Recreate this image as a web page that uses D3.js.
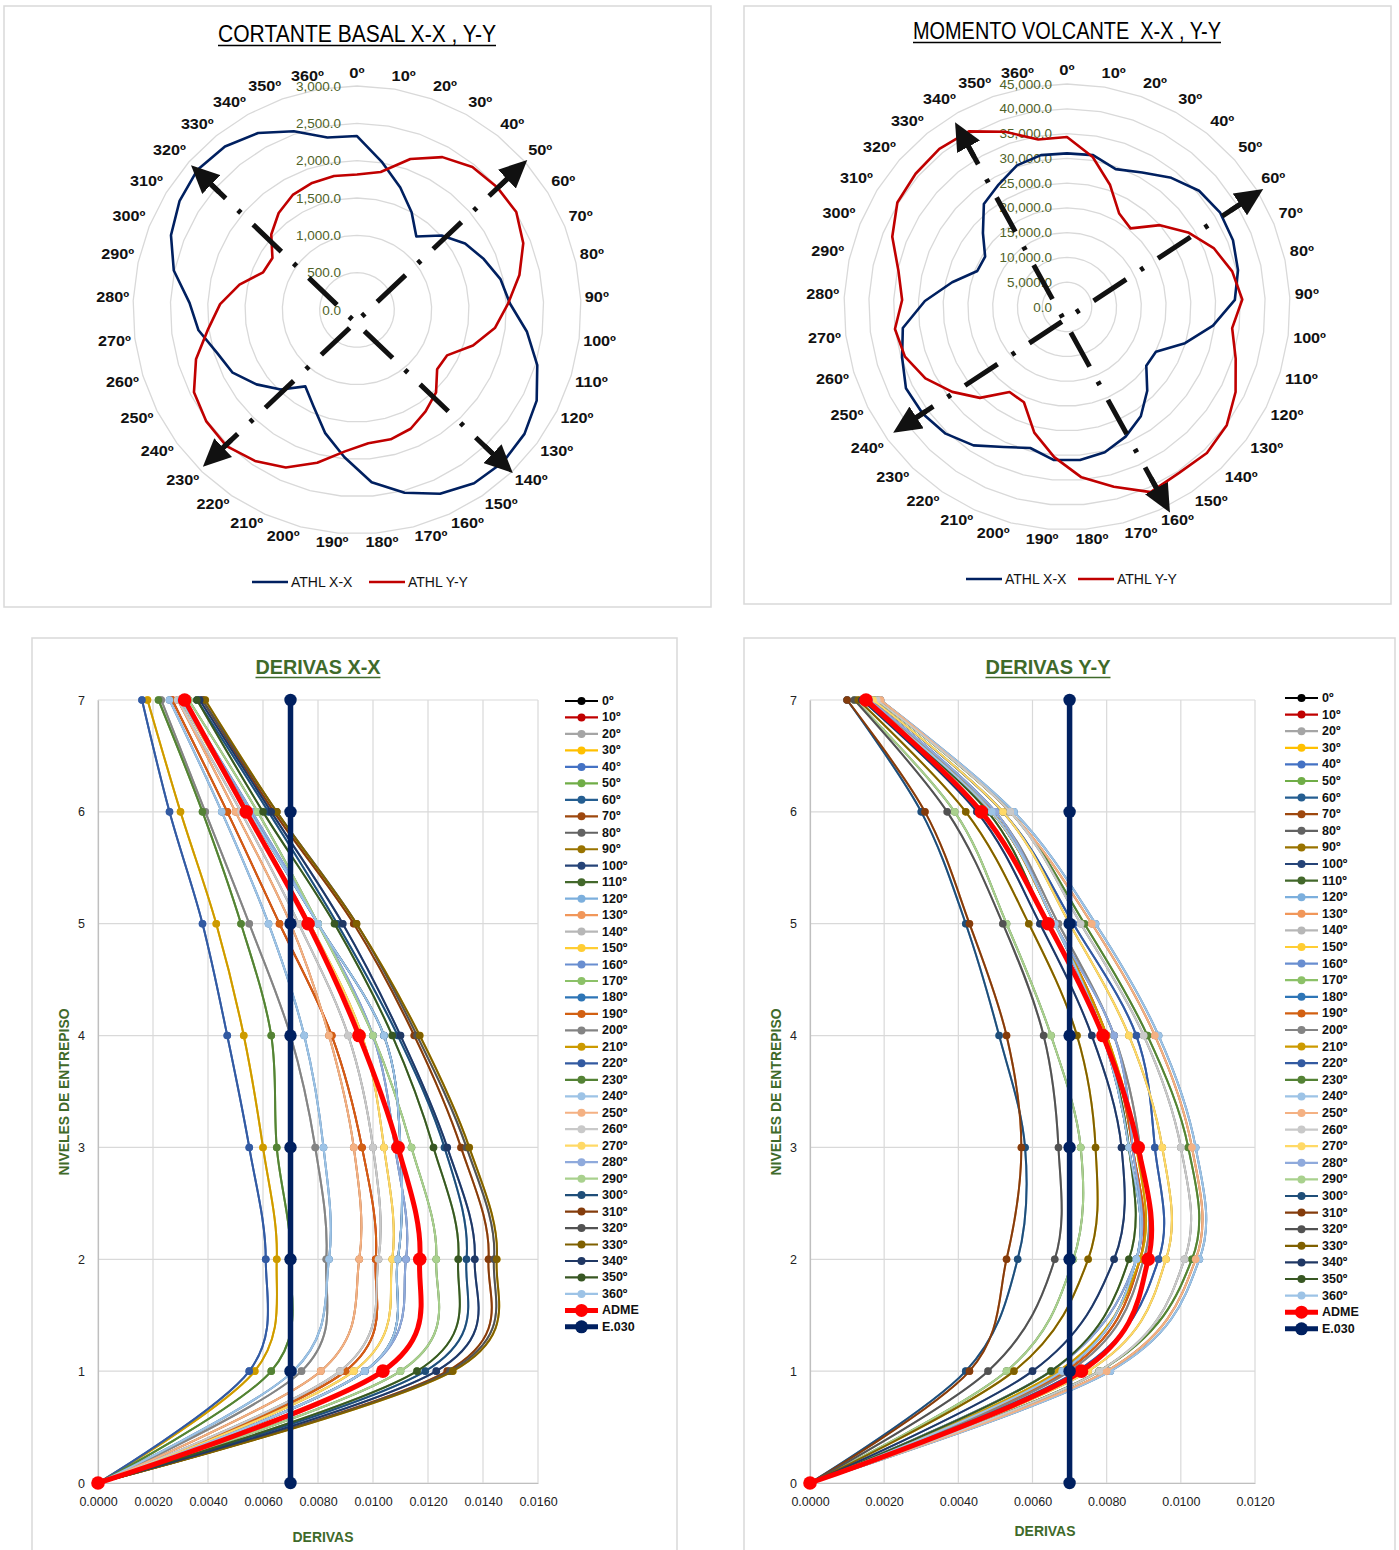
<!DOCTYPE html>
<html><head><meta charset="utf-8">
<script src="https://cdn.jsdelivr.net/npm/d3@7/dist/d3.min.js"></script>
<style>
body{margin:0;background:#fff;}
svg text{font-family:"Liberation Sans",Arial,sans-serif;}
</style></head>
<body><svg id="chart" width="1399" height="1550"></svg>
<script>
// ---------------- DATA ----------------
const radarCats = ["0º","10º","20º","30º","40º","50º","60º","70º","80º","90º","100º","110º","120º","130º","140º","150º","160º","170º","180º","190º","200º","210º","220º","230º","240º","250º","260º","270º","280º","290º","300º","310º","320º","330º","340º","350º","360º"];

const shearXX = [2330,2005,1740,1500,1265,1510,1700,1830,1965,2050,2295,2525,2695,2790,2825,2800,2700,2530,2315,1980,1700,1415,1235,1475,1675,1865,1960,2140,2245,2510,2685,2790,2845,2815,2715,2540,2345];
const shearYY = [1815,1875,2145,2345,2460,2495,2505,2400,2225,2025,1865,1625,1350,1335,1530,1640,1745,1790,1790,1900,2115,2315,2440,2525,2510,2445,2255,2010,1835,1610,1355,1330,1530,1670,1765,1805,1820];
const shearTicks = [0,500,1000,1500,2000,2500,3000];

const momentXX = [31000,31100,29500,31100,33500,35500,36300,36100,35300,33900,29700,24900,20100,19900,23400,26600,28700,30300,31000,31000,29400,31000,33700,35400,36200,36400,34800,33400,28700,23700,19500,19400,22600,26700,28300,30300,31100];
const momentYY = [34300,30700,26100,21600,20400,25000,28700,31900,34100,35400,33600,35600,38100,40100,40800,40400,41000,37500,34500,30400,26200,21100,20700,25400,28800,32000,34200,35000,33300,34800,38000,40200,40700,41000,40600,37500,34300];
const momentTicks = [0,5000,10000,15000,20000,25000,30000,35000,40000,45000];

// arrows: polar endpoints [angle deg, value]
const shearArrows = [ {a1:-135.5, v1:2945, a2:48.6, v2:3040}, {a1:-48.9, v1:2950, a2:136.3, v2:3020} ];
const momentArrows = [ {a1:-125.9, v1:43300, a2:59.0, v2:46200}, {a1:-31.2, v1:43600, a2:153.4, v2:46400} ];

const levels = [0,1,2,3,4,5,6,7];
const levelTicks = [0,1,2,3,4,5,6,7];
const xTicksXX = [0,0.002,0.004,0.006,0.008,0.010,0.012,0.014,0.016];
const xTicksYY = [0,0.002,0.004,0.006,0.008,0.010,0.012];

const namesXX = ["0º","10º","20º","30º","40°","50º","60º","70º","80º","90º","100º","110º","120º","130º","140º","150º","160º","170º","180º","190º","200º","210º","220º","230º","240º","250º","260º","270º","280º","290º","300°","310º","320º","330º","340º","350º","360º"];
const namesYY = ["0º","10º","20º","30º","40º","50º","60º","70º","80º","90º","100º","110º","120º","130º","140º","150º","160º","170º","180º","190º","200º","210º","220º","230º","240º","250º","260º","270º","280º","290º","300°","310º","320º","330º","340º","350º","360º"];
const seriesColors = ["#000000","#C00000","#A5A5A5","#FFC000","#4472C4","#70AD47","#255E91","#9E480E","#636363","#997300","#264478","#43682B","#7CAFDD","#F1975A","#B7B7B7","#FFCD33","#698ED0","#8CC168","#2E75B6","#D26012","#848484","#CC9A00","#335AA1","#548235","#9DC3E6","#F4B183","#C9C9C9","#FFD966","#8FAADC","#A9D18E","#1F4E79","#843C0C","#525252","#7F6000","#203864","#385723","#9DC3E6"];

// drift values per series, levels 0..7
const driftXX = [
 [0,0.0097,0.0109,0.0110,0.0104,0.0080,0.0055,0.0030],
 [0,0.0090,0.0101,0.0096,0.0085,0.0066,0.0047,0.0027],
 [0,0.0074,0.0083,0.0079,0.0070,0.0055,0.0039,0.0023],
 [0,0.0057,0.0065,0.0060,0.0053,0.0043,0.0030,0.0018],
 [0,0.0055,0.0061,0.0055,0.0047,0.0038,0.0026,0.0016],
 [0,0.0063,0.0070,0.0065,0.0063,0.0052,0.0038,0.0022],
 [0,0.0071,0.0084,0.0082,0.0075,0.0062,0.0045,0.0026],
 [0,0.0081,0.0095,0.0093,0.0084,0.0070,0.0050,0.0029],
 [0,0.0088,0.0102,0.0100,0.0091,0.0073,0.0052,0.0029],
 [0,0.0093,0.0107,0.0104,0.0096,0.0077,0.0054,0.0030],
 [0,0.0097,0.0112,0.0108,0.0100,0.0080,0.0056,0.0031],
 [0,0.0110,0.0123,0.0114,0.0100,0.0080,0.0058,0.0033],
 [0,0.0119,0.0134,0.0126,0.0109,0.0087,0.0062,0.0036],
 [0,0.0127,0.0142,0.0132,0.0115,0.0093,0.0064,0.0038],
 [0,0.0128,0.0144,0.0134,0.0116,0.0094,0.0065,0.0038],
 [0,0.0129,0.0145,0.0135,0.0117,0.0094,0.0065,0.0039],
 [0,0.0123,0.0137,0.0127,0.0110,0.0089,0.0063,0.0037],
 [0,0.0116,0.0131,0.0122,0.0107,0.0086,0.0060,0.0036],
 [0,0.0097,0.0109,0.0110,0.0104,0.0080,0.0055,0.0030],
 [0,0.0090,0.0101,0.0096,0.0085,0.0066,0.0047,0.0027],
 [0,0.0074,0.0083,0.0079,0.0070,0.0055,0.0039,0.0023],
 [0,0.0057,0.0065,0.0060,0.0053,0.0043,0.0030,0.0018],
 [0,0.0055,0.0061,0.0055,0.0047,0.0038,0.0026,0.0016],
 [0,0.0063,0.0070,0.0065,0.0063,0.0052,0.0038,0.0022],
 [0,0.0071,0.0084,0.0082,0.0075,0.0062,0.0045,0.0026],
 [0,0.0081,0.0095,0.0093,0.0084,0.0070,0.0050,0.0029],
 [0,0.0088,0.0102,0.0100,0.0091,0.0073,0.0052,0.0029],
 [0,0.0093,0.0107,0.0104,0.0096,0.0077,0.0054,0.0030],
 [0,0.0097,0.0112,0.0108,0.0100,0.0080,0.0056,0.0031],
 [0,0.0110,0.0123,0.0114,0.0100,0.0080,0.0058,0.0033],
 [0,0.0119,0.0134,0.0126,0.0109,0.0087,0.0062,0.0036],
 [0,0.0127,0.0142,0.0132,0.0115,0.0093,0.0064,0.0038],
 [0,0.0128,0.0144,0.0134,0.0116,0.0094,0.0065,0.0038],
 [0,0.0129,0.0145,0.0135,0.0117,0.0094,0.0065,0.0039],
 [0,0.0123,0.0137,0.0127,0.0110,0.0089,0.0063,0.0037],
 [0,0.0116,0.0131,0.0122,0.0107,0.0086,0.0060,0.0036],
 [0,0.0097,0.0109,0.0110,0.0104,0.0080,0.0055,0.0030]
];
const driftYY = [
 [0,0.0068,0.0088,0.0086,0.0079,0.0066,0.0049,0.0015],
 [0,0.0069,0.0089,0.0087,0.0080,0.0066,0.0049,0.0015],
 [0,0.0070,0.0090,0.0089,0.0082,0.0067,0.0050,0.0016],
 [0,0.0067,0.0089,0.0088,0.0080,0.0066,0.0049,0.0015],
 [0,0.0072,0.0094,0.0093,0.0088,0.0071,0.0052,0.0017],
 [0,0.0078,0.0103,0.0102,0.0091,0.0074,0.0054,0.0018],
 [0,0.0081,0.0105,0.0104,0.0094,0.0077,0.0055,0.0019],
 [0,0.0080,0.0104,0.0103,0.0093,0.0076,0.0054,0.0019],
 [0,0.0078,0.0101,0.0100,0.0090,0.0073,0.0054,0.0018],
 [0,0.0075,0.0096,0.0095,0.0086,0.0070,0.0052,0.0017],
 [0,0.0065,0.0088,0.0087,0.0082,0.0066,0.0050,0.0016],
 [0,0.0053,0.0071,0.0073,0.0065,0.0053,0.0039,0.0012],
 [0,0.0042,0.0056,0.0058,0.0051,0.0042,0.0030,0.0010],
 [0,0.0043,0.0053,0.0057,0.0053,0.0043,0.0031,0.0010],
 [0,0.0048,0.0066,0.0067,0.0063,0.0052,0.0037,0.0012],
 [0,0.0055,0.0075,0.0077,0.0072,0.0059,0.0042,0.0013],
 [0,0.0060,0.0082,0.0084,0.0076,0.0062,0.0045,0.0014],
 [0,0.0065,0.0086,0.0086,0.0079,0.0064,0.0048,0.0015],
 [0,0.0068,0.0088,0.0086,0.0079,0.0066,0.0049,0.0015],
 [0,0.0069,0.0089,0.0087,0.0080,0.0066,0.0049,0.0015],
 [0,0.0070,0.0090,0.0089,0.0082,0.0067,0.0050,0.0016],
 [0,0.0067,0.0089,0.0088,0.0080,0.0066,0.0049,0.0015],
 [0,0.0072,0.0094,0.0093,0.0088,0.0071,0.0052,0.0017],
 [0,0.0078,0.0103,0.0102,0.0091,0.0074,0.0054,0.0018],
 [0,0.0081,0.0105,0.0104,0.0094,0.0077,0.0055,0.0019],
 [0,0.0080,0.0104,0.0103,0.0093,0.0076,0.0054,0.0019],
 [0,0.0078,0.0101,0.0100,0.0090,0.0073,0.0054,0.0018],
 [0,0.0075,0.0096,0.0095,0.0086,0.0070,0.0052,0.0017],
 [0,0.0065,0.0088,0.0087,0.0082,0.0066,0.0050,0.0016],
 [0,0.0053,0.0071,0.0073,0.0065,0.0053,0.0039,0.0012],
 [0,0.0042,0.0056,0.0058,0.0051,0.0042,0.0030,0.0010],
 [0,0.0043,0.0053,0.0057,0.0053,0.0043,0.0031,0.0010],
 [0,0.0048,0.0066,0.0067,0.0063,0.0052,0.0037,0.0012],
 [0,0.0055,0.0075,0.0077,0.0072,0.0059,0.0042,0.0013],
 [0,0.0060,0.0082,0.0084,0.0076,0.0062,0.0045,0.0014],
 [0,0.0065,0.0086,0.0086,0.0079,0.0064,0.0048,0.0015],
 [0,0.0068,0.0088,0.0086,0.0079,0.0066,0.0049,0.0015]
];
const admeXX = [0,0.01036,0.0117,0.01091,0.00949,0.00764,0.00539,0.00315];
const admeYY = [0,0.00732,0.00912,0.00885,0.0079,0.00642,0.00462,0.00151];
const e030 = [0.007,0.007,0.007,0.007,0.007,0.007,0.007,0.007];

// ---------------- DRAWING ----------------
const svg = d3.select("#chart");
const green = "#4F6228";
const titleGreen = "#3F6A2A";

function panel(x,y,w,h){
  svg.append("rect").attr("x",x).attr("y",y).attr("width",w).attr("height",h)
    .attr("fill","#fff").attr("stroke","#D9D9D9").attr("stroke-width",1.5);
}
panel(4,6,707,601);
panel(744,6,647,598);
panel(32,638,645,940);
panel(744,638,651,940);

function title(cx,y,txt,size,width,weight,color){
  svg.append("text").attr("x",cx).attr("y",y).attr("text-anchor","middle")
    .attr("font-size",size).attr("font-weight",weight).attr("fill",color)
    .attr("textLength",width).attr("lengthAdjust","spacingAndGlyphs")
    .style("white-space","pre").text(txt);
  svg.append("line").attr("x1",cx-width/2).attr("x2",cx+width/2)
    .attr("y1",y+3.5).attr("y2",y+3.5).attr("stroke",color).attr("stroke-width",1.6);
}

const defs = svg.append("defs");
defs.append("marker").attr("id","ah").attr("viewBox","0 0 28 26")
  .attr("refX",19).attr("refY",13).attr("markerWidth",28).attr("markerHeight",26)
  .attr("markerUnits","userSpaceOnUse").attr("orient","auto")
  .append("path").attr("d","M0,0 L28,13 L0,26 Z").attr("fill","#111");

function drawRadar(c){
  const g = svg.append("g").attr("transform",`translate(${c.cx},${c.cy})`);
  const r = d3.scaleLinear().domain([0,c.max]).range([0,c.R]);
  const ang = d3.scaleLinear().domain([0,radarCats.length]).range([0,2*Math.PI]);
  const radial = d3.lineRadial().angle((d,i)=>ang(i)).radius(d=>r(d)).curve(d3.curveLinearClosed);
  c.ticks.forEach(t=>{
    g.append("path").attr("d",radial(radarCats.map(()=>t))).attr("fill","none")
      .attr("stroke","#D9D9D9").attr("stroke-width",1.3);
  });
  const fmt = d3.format(",.1f");
  c.ticks.forEach(t=>{
    g.append("text").attr("x",-c.labelGap).attr("y",-r(t)).attr("text-anchor","end")
      .attr("dominant-baseline","central").attr("fill",green).attr("font-size",13.5).text(fmt(t));
  });
  const clamp = v=>Math.max(-1,Math.min(1,v));
  radarCats.forEach((lab,i)=>{
    const th = ang(i);
    const w = (lab.length-1)*8.8 + 6.5, h = 14;
    const s = Math.sin(th), co = Math.cos(th);
    const cx = c.labelR*s + clamp(4*s)*w/2;
    const cy = -c.labelR*co - clamp(4*co)*h/2 - 2;
    g.append("text").attr("font-size",14).attr("font-weight","bold").attr("fill","#111")
      .attr("text-anchor","middle").attr("dominant-baseline","central")
      .attr("textLength",w).attr("lengthAdjust","spacingAndGlyphs")
      .attr("x",cx).attr("y",cy).text(lab);
  });
  g.append("path").attr("d",radial(c.xx)).attr("fill","none").attr("stroke","#002060")
    .attr("stroke-width",2.6).attr("stroke-linejoin","round");
  g.append("path").attr("d",radial(c.yy)).attr("fill","none").attr("stroke","#C00000")
    .attr("stroke-width",2.6).attr("stroke-linejoin","round");
  // arrows
  const pt = (deg,v)=>{const th=deg*Math.PI/180; return [r(v)*Math.sin(th), -r(v)*Math.cos(th)];};
  c.arrows.forEach(a=>{
    const A = pt(a.a1,a.v1), B = pt(a.a2,a.v2);
    const L = Math.hypot(B[0]-A[0],B[1]-A[1]);
    const ux=(B[0]-A[0])/L, uy=(B[1]-A[1])/L;
    const ins = 9, sh = 30;
    const A2=[A[0]+ux*ins,A[1]+uy*ins], B2=[B[0]-ux*ins,B[1]-uy*ins];
    g.append("line").attr("x1",A2[0]).attr("y1",A2[1]).attr("x2",B2[0]).attr("y2",B2[1])
      .attr("stroke","#111").attr("stroke-width",5).attr("stroke-dasharray","39,17,4,17");
    g.append("line").attr("x1",A2[0]+ux*sh).attr("y1",A2[1]+uy*sh).attr("x2",A2[0]).attr("y2",A2[1])
      .attr("stroke","#111").attr("stroke-width",5).attr("marker-end","url(#ah)");
    g.append("line").attr("x1",B2[0]-ux*sh).attr("y1",B2[1]-uy*sh).attr("x2",B2[0]).attr("y2",B2[1])
      .attr("stroke","#111").attr("stroke-width",5).attr("marker-end","url(#ah)");
  });
}

function radarLegend(x1,x2,y){
  const items=[["ATHL X-X","#002060",x1],["ATHL Y-Y","#C00000",x2]];
  items.forEach(([t,col,x])=>{
    svg.append("line").attr("x1",x).attr("x2",x+36).attr("y1",y).attr("y2",y).attr("stroke",col).attr("stroke-width",2.6);
    svg.append("text").attr("x",x+39).attr("y",y).attr("dominant-baseline","central").attr("font-size",14).attr("fill","#111").text(t);
  });
}

title(357,42,"CORTANTE BASAL X-X , Y-Y",23,278,"normal","#000");
drawRadar({cx:357,cy:310,R:224,max:3000,ticks:shearTicks,xx:shearXX,yy:shearYY,labelR:228,labelGap:16,arrows:shearArrows});
radarLegend(252,369,582);

title(1067,39,"MOMENTO VOLCANTE  X-X , Y-Y",23,308,"normal","#000");
drawRadar({cx:1067,cy:307,R:223,max:45000,ticks:momentTicks,xx:momentXX,yy:momentYY,labelR:228,labelGap:15,arrows:momentArrows});
radarLegend(966,1078,579);

function driftChart(c){
  const g = svg.append("g");
  const x = d3.scaleLinear().domain([0,c.xmax]).range([c.x0,c.x1]);
  const y = d3.scaleLinear().domain([0,7]).range([1483,700]);
  // grid
  c.xticks.forEach(t=>{
    g.append("line").attr("x1",x(t)).attr("x2",x(t)).attr("y1",y(0)).attr("y2",y(7)).attr("stroke","#D9D9D9").attr("stroke-width",1.2);
  });
  levelTicks.forEach(t=>{
    g.append("line").attr("x1",x(0)).attr("x2",x(c.xmax)).attr("y1",y(t)).attr("y2",y(t)).attr("stroke","#D9D9D9").attr("stroke-width",1.2);
  });
  const ax = g.append("g").attr("transform",`translate(0,${y(0)})`)
    .call(d3.axisBottom(x).tickValues(c.xticks).tickFormat(d3.format(".4f")).tickSize(0).tickPadding(14));
  ax.select(".domain").attr("stroke","#BFBFBF").attr("stroke-width",1.2);
  ax.selectAll("text").attr("font-size",12.5).attr("fill","#222").style("font-family","Liberation Sans, Arial");
  const ay = g.append("g").attr("transform",`translate(${x(0)},0)`)
    .call(d3.axisLeft(y).tickValues(levelTicks).tickFormat(d3.format("d")).tickSize(0).tickPadding(13));
  ay.select(".domain").attr("stroke","#BFBFBF").attr("stroke-width",1.2);
  ay.selectAll("text").attr("font-size",12.5).attr("fill","#222").style("font-family","Liberation Sans, Arial");
  // titles
  title(c.titleX,674,c.title,21,125,"bold",titleGreen);
  g.append("text").attr("x",c.xTitleX).attr("y",c.xTitleY).attr("text-anchor","middle").attr("dominant-baseline","central")
    .attr("font-size",15).attr("font-weight","bold").attr("fill",titleGreen)
    .attr("textLength",61).attr("lengthAdjust","spacingAndGlyphs").text("DERIVAS");
  g.append("text").attr("transform",`translate(${c.yTitleX},1092) rotate(-90)`).attr("text-anchor","middle").attr("dominant-baseline","central")
    .attr("font-size",14).attr("font-weight","bold").attr("fill",titleGreen)
    .attr("textLength",167).attr("lengthAdjust","spacingAndGlyphs").text("NIVELES DE ENTREPISO");
  const line = d3.line().x(d=>x(d)).y((d,i)=>y(levels[i])).curve(d3.curveCardinal.tension(0));
  function draw(vals,col,w,mr){
    g.append("path").attr("d",line(vals)).attr("fill","none").attr("stroke",col).attr("stroke-width",w).attr("stroke-linejoin","round");
    g.selectAll(null).data(vals).enter().append("circle")
      .attr("cx",d=>x(d)).attr("cy",(d,i)=>y(levels[i])).attr("r",mr).attr("fill",col);
  }
  c.series.forEach((s,i)=>draw(s,seriesColors[i],2,3.8));
  draw(c.adme,"#FF0000",5,6.8);
  draw(e030,"#002060",5.5,6.2);
  // legend
  const names = c.names.concat(["ADME","E.030"]);
  const cols = seriesColors.concat(["#FF0000","#002060"]);
  names.forEach((n,i)=>{
    const ly = c.ly0 + i*c.lstep;
    const big = i>=37;
    const w = big ? 5 : 2.2, mr = big ? 6.5 : 4;
    g.append("line").attr("x1",c.lx).attr("x2",c.lx+33).attr("y1",ly).attr("y2",ly).attr("stroke",cols[i]).attr("stroke-width",w);
    g.append("circle").attr("cx",c.lx+16.5).attr("cy",ly).attr("r",mr).attr("fill",cols[i]);
    g.append("text").attr("x",c.lx+37).attr("y",ly).attr("dominant-baseline","central").attr("font-size",12.5)
      .attr("font-weight","bold").attr("fill","#111").text(n);
  });
}

driftChart({x0:98,x1:538,xmax:0.016,xticks:xTicksXX,series:driftXX,adme:admeXX,names:namesXX,
  title:"DERIVAS X-X",titleX:318,xTitleX:323,xTitleY:1536,yTitleX:64,lx:565,ly0:701,lstep:16.47});
driftChart({x0:810,x1:1255,xmax:0.012,xticks:xTicksYY,series:driftYY,adme:admeYY,names:namesYY,
  title:"DERIVAS Y-Y",titleX:1048,xTitleX:1045,xTitleY:1530,yTitleX:776,lx:1285,ly0:698,lstep:16.6});
</script></body></html>
